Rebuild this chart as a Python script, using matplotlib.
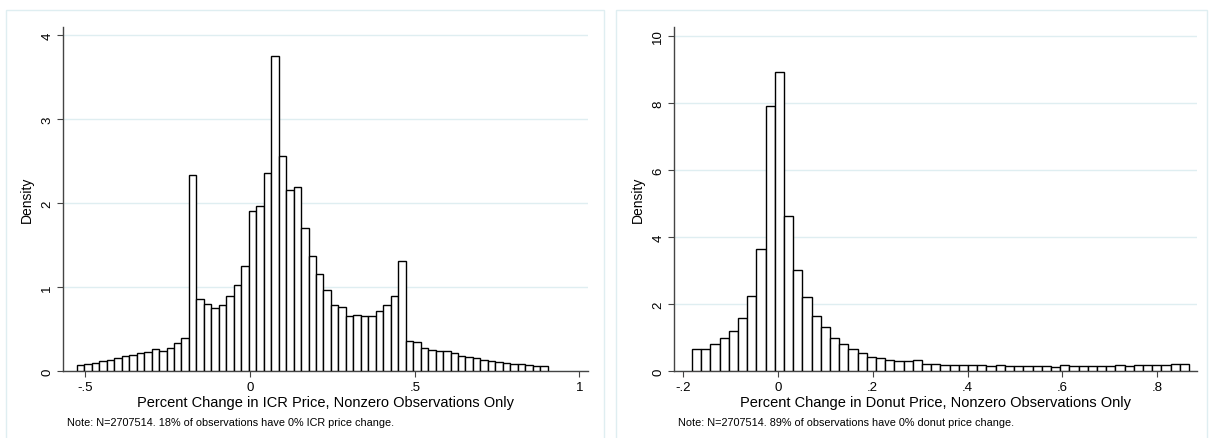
import numpy as np
import matplotlib
matplotlib.use("Agg")
import matplotlib.pyplot as plt
from matplotlib.patches import Rectangle

plt.rcParams['font.family'] = ['Liberation Sans', 'DejaVu Sans']

# left panel: ICR price change histogram (63 bins)
icr_lo, icr_hi = -0.526, 0.9035
icr_density = [
    0.07, 0.087, 0.10, 0.12, 0.13, 0.16, 0.175, 0.19, 0.22, 0.23,
    0.26, 0.24, 0.27, 0.33, 0.39, 2.33, 0.86, 0.80, 0.75, 0.79,
    0.89, 1.02, 1.25, 1.90, 1.96, 2.36, 3.75, 2.56, 2.15, 2.19,
    1.70, 1.37, 1.15, 0.97, 0.78, 0.76, 0.66, 0.67, 0.65, 0.655,
    0.72, 0.79, 0.89, 1.31, 0.357, 0.34, 0.27, 0.25, 0.235, 0.235,
    0.21, 0.175, 0.17, 0.16, 0.135, 0.12, 0.11, 0.095, 0.087, 0.08,
    0.075, 0.065, 0.055,
]
icr_xticks = [-0.5, 0, 0.5, 1]
icr_xlabels = ["-.5", "0", ".5", "1"]
icr_yticks = [0, 1, 2, 3, 4]

# right panel: donut price change histogram (54 bins)
donut_lo, donut_hi = -0.181, 0.867
donut_density = [
    0.65, 0.65, 0.81, 0.99, 1.20, 1.57, 2.25, 3.64, 7.91, 8.93,
    4.62, 3.02, 2.20, 1.63, 1.30, 0.99, 0.81, 0.65, 0.54, 0.43,
    0.39, 0.34, 0.31, 0.29, 0.33, 0.21, 0.21, 0.18, 0.17, 0.17,
    0.17, 0.17, 0.16, 0.17, 0.16, 0.16, 0.15, 0.15, 0.15, 0.12,
    0.17, 0.15, 0.15, 0.15, 0.15, 0.15, 0.17, 0.15, 0.17, 0.17,
    0.17, 0.18, 0.20, 0.20,
]
donut_xticks = [-0.2, 0, 0.2, 0.4, 0.6, 0.8]
donut_xlabels = ["-.2", "0", ".2", ".4", ".6", ".8"]
donut_yticks = [0, 2, 4, 6, 8, 10]

W, H = 1209, 439
grid_col = '#dfeef1'
axis_col = '#444444'

fig = plt.figure(figsize=(W / 100, H / 100), dpi=100)


def hist_panel(rect, lo, hi, dens, xlim, ylim, xticks, xlabels, yticks, xlabel, note):
    ax = fig.add_axes(rect)
    edges = np.linspace(lo, hi, len(dens) + 1)
    ax.bar(edges[:-1], dens, width=np.diff(edges), align='edge',
           facecolor='white', edgecolor='black', linewidth=1.0, zorder=3)
    ax.set_xlim(*xlim)
    ax.set_ylim(*ylim)
    ax.set_xticks(xticks)
    ax.set_xticklabels(xlabels)
    ax.set_yticks(yticks)
    ax.set_yticklabels([str(t) for t in yticks], rotation=90, va='center')
    for s in ['top', 'right']:
        ax.spines[s].set_visible(False)
    for s in ['left', 'bottom']:
        ax.spines[s].set_color(axis_col)
        ax.spines[s].set_linewidth(1.0)
    ax.tick_params(length=4, width=0.8, color=axis_col, labelsize=9.5, pad=3)
    ax.yaxis.grid(True, color=grid_col, linewidth=1.0)
    ax.set_axisbelow(True)
    ax.set_ylabel("Density", fontsize=10, labelpad=5)
    ax.set_xlabel(xlabel, fontsize=10.5, labelpad=2)
    x0 = rect[0]
    fig.text(x0 + 4 / W, 1 - 423 / H, note, fontsize=7.8, va='center', ha='left')
    return ax


hist_panel([63 / W, 67 / H, 525 / W, 344 / H], icr_lo, icr_hi, icr_density,
           (-0.568, 1.026), (0, 4.095), icr_xticks, icr_xlabels, icr_yticks,
           "Percent Change in ICR Price, Nonzero Observations Only",
           "Note: N=2707514. 18% of observations have 0% ICR price change.")

hist_panel([674 / W, 67 / H, 523 / W, 344 / H], donut_lo, donut_hi, donut_density,
           (-0.219, 0.884), (0, 10.27), donut_xticks, donut_xlabels, donut_yticks,
           "Percent Change in Donut Price, Nonzero Observations Only",
           "Note: N=2707514. 89% of observations have 0% donut price change.")

# light panel frames
for x0, x1 in [(6, 604), (616, 1207)]:
    fig.add_artist(Rectangle((x0 / W, -0.01), (x1 - x0) / W, 1 - 11 / H + 0.01,
                             transform=fig.transFigure, fill=False,
                             edgecolor=grid_col, linewidth=1.0))

fig.savefig("out.png", dpi=100, facecolor='white')
